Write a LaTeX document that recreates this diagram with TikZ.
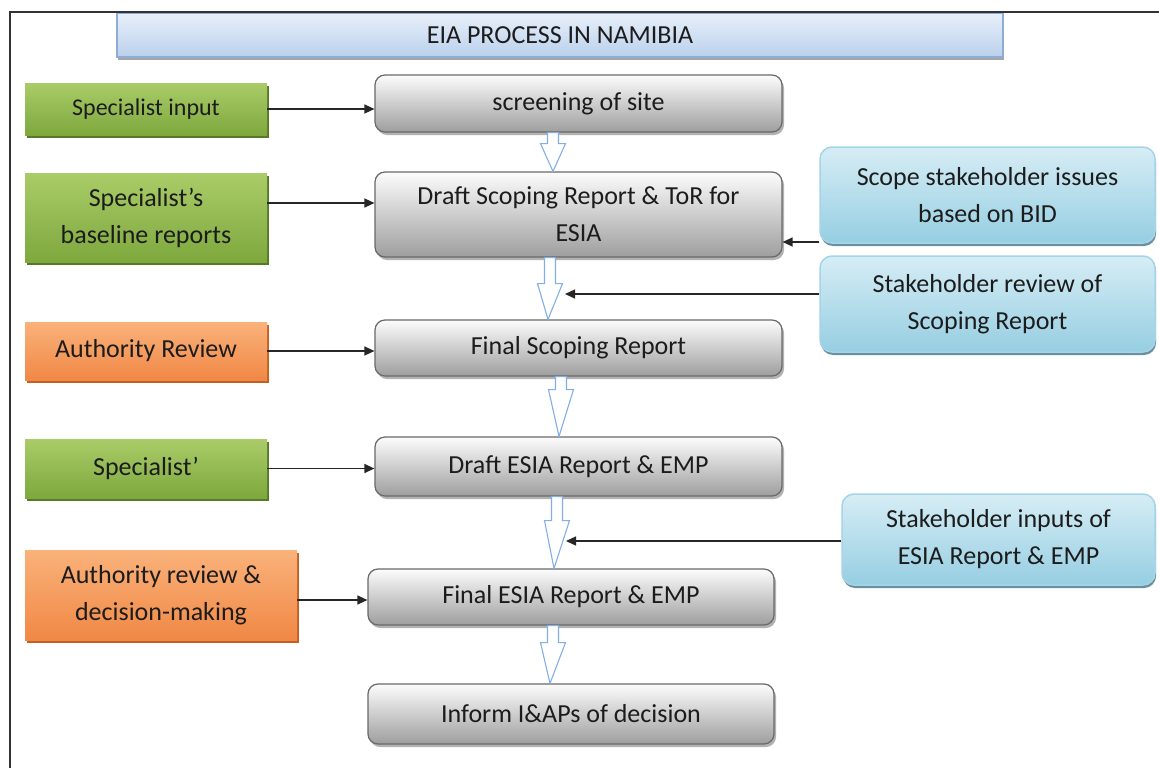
\documentclass[tikz,border=0pt]{standalone}
\usepackage{fontspec}
\setmainfont{Carlito}
\usetikzlibrary{arrows.meta,calc,shadows}
\definecolor{grTop}{RGB}{170,204,104}
\definecolor{grBot}{RGB}{126,168,62}
\definecolor{grSh}{RGB}{88,122,40}
\definecolor{orTop}{RGB}{250,178,122}
\definecolor{orBot}{RGB}{240,136,70}
\definecolor{orSh}{RGB}{196,96,36}
\definecolor{gyTop}{RGB}{252,252,252}
\definecolor{gyBot}{RGB}{158,158,158}
\definecolor{gyLine}{RGB}{105,105,105}
\definecolor{blTop}{RGB}{214,237,245}
\definecolor{blBot}{RGB}{150,206,226}
\definecolor{blLine}{RGB}{165,212,232}
\definecolor{tiTop}{RGB}{232,240,250}
\definecolor{tiBot}{RGB}{186,208,236}
\definecolor{tiLine}{RGB}{140,174,214}
\definecolor{arrBl}{RGB}{130,175,230}
\definecolor{txt}{RGB}{28,28,28}
\newcommand{\blk}[3]{%
  \path let \p1=(#1), \p2=(#2) in
    [draw=arrBl, fill=white, line width=1.1pt, line join=miter]
    (\x1-5.5pt,\y1) -- (\x1+5.5pt,\y1) -- (\x1+5.5pt,\y1-#3pt) -- (\x1+12.5pt,\y1-#3pt)
    -- (\x2,\y2) -- (\x1-12.5pt,\y1-#3pt) -- (\x1-5.5pt,\y1-#3pt) -- cycle;}
\begin{document}
\begin{tikzpicture}[x=1pt,y=-1pt,
  font=\fontsize{26}{37}\selectfont,
  every node/.style={text=txt, align=center, inner sep=0pt},
  greenbox/.style={rectangle, top color=grTop, bottom color=grBot,
    general shadow={fill=grSh, shadow xshift=2pt, shadow yshift=-3pt}},
  orangebox/.style={rectangle, top color=orTop, bottom color=orBot,
    general shadow={fill=orSh, shadow xshift=2pt, shadow yshift=-3pt}},
  graybox/.style={rectangle, rounded corners=10pt, draw=gyLine, line width=1.2pt,
    top color=gyTop, bottom color=gyBot,
    general shadow={fill=black!30, shadow xshift=2pt, shadow yshift=-3pt}},
  bluebox/.style={rectangle, rounded corners=12pt, draw=blLine, line width=1.5pt,
    top color=blTop, bottom color=blBot,
    general shadow={fill=blBot!70!black, shadow xshift=1pt, shadow yshift=-3pt}},
  titlebox/.style={rectangle, draw=tiLine, line width=1.2pt, top color=tiTop, bottom color=tiBot,
    general shadow={fill=black!35, shadow xshift=1pt, shadow yshift=-3pt}},
  conn/.style={draw=black!85, line width=1.3pt, -{Triangle[length=10pt,width=9pt]}}
]
\useasboundingbox (0,0) rectangle (1159,768);
\fill[white] (0,0) rectangle (1159,768);

% title
\node[titlebox, minimum width=886pt, minimum height=44pt] (title) at (560,35) {EIA PROCESS IN NAMIBIA};
% frame
\draw[black!80, line width=2pt] (10,768) -- (10,12) -- (1159,12);

% left boxes
\node[greenbox, minimum width=242pt, minimum height=52pt, font=\fontsize{24}{37}\selectfont] (sp1) at (146,109) {Specialist input};
\node[greenbox, minimum width=242pt, minimum height=89pt] (sp2) at (146,217.5) {Specialist’s\\baseline reports};
\node[orangebox, minimum width=242pt, minimum height=58pt] (auth1) at (146,351) {Authority Review};
\node[greenbox, minimum width=242pt, minimum height=59pt] (sp3) at (146,468.5) {Specialist’};
\node[orangebox, minimum width=272pt, minimum height=90pt] (auth2) at (161,595) {Authority review \&\\decision-making};

% central boxes
\node[graybox, minimum width=407pt, minimum height=57pt] (screen) at (578.5,103.5) {screening of site};
\node[graybox, minimum width=407pt, minimum height=85pt] (draft) at (578.5,214.5) {Draft Scoping Report \& ToR for\\ESIA};
\node[graybox, minimum width=407pt, minimum height=56pt] (fscope) at (578.5,348) {Final Scoping Report};
\node[graybox, minimum width=407pt, minimum height=59pt] (desia) at (578.5,466.5) {Draft ESIA Report \& EMP};
\node[graybox, minimum width=406pt, minimum height=56pt] (fesia) at (571,597) {Final ESIA Report \& EMP};
\node[graybox, minimum width=406pt, minimum height=60pt] (inform) at (571,714) {Inform I\&APs of decision};

% right boxes
\node[bluebox, minimum width=335pt, minimum height=96pt] (scope) at (987.5,195) {Scope stakeholder issues\\based on BID};
\node[bluebox, minimum width=335pt, minimum height=96pt] (review) at (987.5,304) {Stakeholder review of\\Scoping Report};
\node[bluebox, minimum width=313pt, minimum height=91pt] (inputs) at (998.5,539.5) {Stakeholder inputs of\\ESIA Report \& EMP};

% helper coordinates
\coordinate (ax1) at (553,0);
\coordinate (ax2) at (550,0);
\coordinate (bx2) at (548,0);
\coordinate (ax3) at (561,0);
\coordinate (bx3) at (559,0);
\coordinate (ax4) at (557,0);
\coordinate (bx4) at (554,0);
\coordinate (ax5) at (553,0);
\coordinate (bx5) at (550,0);
\coordinate (ly2) at (0,203);
\coordinate (ly5) at (0,600);
\coordinate (ry1) at (0,242);
\coordinate (t1) at (565,294);
\coordinate (t2) at (566,541);

% hollow block arrows
\blk{screen.south -| ax1}{draft.north -| ax1}{11}
\blk{draft.south -| ax2}{fscope.north -| bx2}{26}
\blk{fscope.south -| ax3}{desia.north -| bx3}{13}
\blk{desia.south -| ax4}{fesia.north -| bx4}{24}
\blk{fesia.south -| ax5}{inform.north -| bx5}{17}

% connectors
\draw[conn] (sp1.east) -- (sp1.east -| screen.west);
\draw[conn] (ly2 -| sp2.east) -- (ly2 -| draft.west);
\draw[conn] (auth1.east) -- (auth1.east -| fscope.west);
\draw[conn] (sp3.east) -- (sp3.east -| desia.west);
\draw[conn] (ly5 -| auth2.east) -- (ly5 -| fesia.west);
\draw[conn] (ry1 -| scope.west) -- (ry1 -| draft.east);
\draw[conn] (t1 -| review.west) -- (t1);
\draw[conn] (t2 -| inputs.west) -- (t2);
\end{tikzpicture}
\end{document}
